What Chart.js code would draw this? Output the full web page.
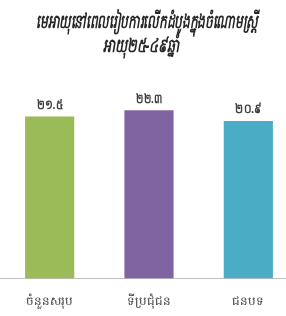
<!DOCTYPE html>
<html>
<head>
<meta charset="utf-8">
<script src="https://cdn.jsdelivr.net/npm/chart.js@4/dist/chart.umd.min.js"></script>
<style>
html,body{margin:0;padding:0;background:#fff;overflow:hidden;}
#wrap{width:298px;height:316px;position:relative;overflow:hidden;}
</style>
</head>
<body>
<div id="wrap"><canvas id="c" width="298" height="333"></canvas></div>
<script>
const titleLines = ["មេអាយុនៅពេលរៀបការលើកដំបូងក្នុងចំណោមស្ត្រី", "អាយុ២៥-៤៩ឆ្នាំ"];
const categories = ["ចំនួនសរុប", "ទីប្រជុំជន", "ជនបទ"];
const values = [21.5, 22.3, 20.9];
const valueLabels = ["២១.៥", "២២.៣", "២០.៩"];
const barColors = ["#9BBB59", "#8064A2", "#4BACC6"];

const titlePlugin = {
  id: 'khTitle',
  afterDraw(chart) {
    const ctx = chart.ctx;
    ctx.save();
    ctx.font = 'italic bold 19px "Noto Sans", sans-serif';
    ctx.fillStyle = '#262626';
    ctx.textAlign = 'center';
    ctx.textBaseline = 'middle';
    ctx.fillText(titleLines[0], 147, 23, 222);
    ctx.fillText(titleLines[1], 141, 47, 76);
    ctx.restore();
  }
};

const labelPlugin = {
  id: 'valueLabels',
  afterDatasetsDraw(chart) {
    const ctx = chart.ctx;
    const meta = chart.getDatasetMeta(0);
    ctx.save();
    ctx.font = 'bold 13px "Noto Sans", sans-serif';
    ctx.fillStyle = '#404040';
    ctx.textAlign = 'center';
    ctx.textBaseline = 'bottom';
    meta.data.forEach((bar, i) => {
      ctx.fillText(valueLabels[i], bar.x, bar.y - 5, 26);
    });
    ctx.restore();
  }
};

new Chart(document.getElementById('c'), {
  type: 'bar',
  data: {
    labels: categories,
    datasets: [{
      data: values,
      backgroundColor: barColors,
      borderColor: barColors,
      borderWidth: 0,
      categoryPercentage: 1,
      barPercentage: 0.495
    }]
  },
  options: {
    responsive: false,
    animation: false,
    devicePixelRatio: 1,
    layout: { padding: { top: 90, left: 0, right: 0, bottom: 8 } },
    plugins: {
      legend: { display: false },
      tooltip: { enabled: false },
      title: { display: false }
    },
    scales: {
      y: { display: false, min: 0, max: 25 },
      x: {
        grid: { display: false, drawTicks: false },
        border: { display: true, color: '#bfbfbf', width: 1 },
        ticks: { color: '#404040', padding: 16, font: { size: 12, family: '"Noto Sans", sans-serif' } }
      }
    }
  },
  plugins: [labelPlugin, titlePlugin]
});
</script>
</body>
</html>
